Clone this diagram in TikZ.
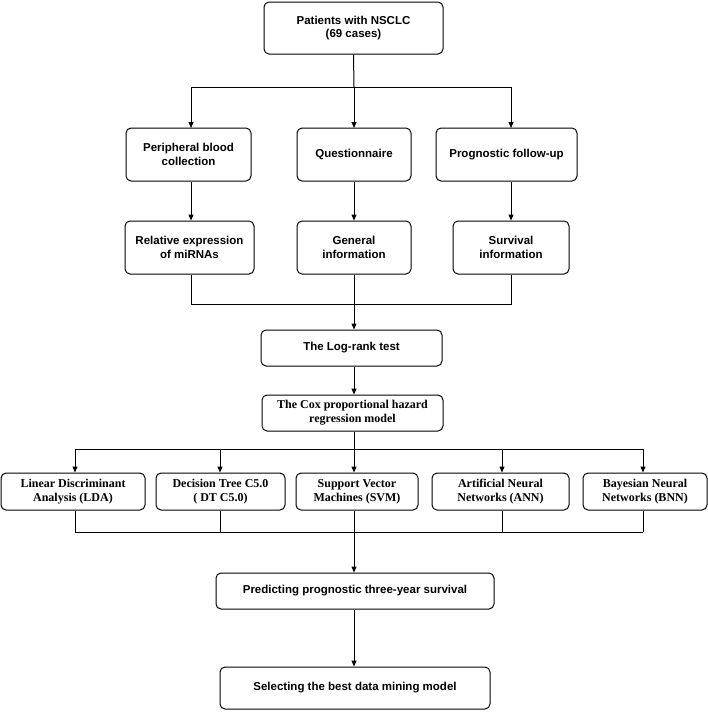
\documentclass[tikz,border=0pt]{standalone}
\usepackage{fontspec}
\setmainfont{Liberation Sans}
\newfontfamily\serifb{Liberation Serif}
\usetikzlibrary{arrows.meta}
\begin{document}
\begin{tikzpicture}[x=1pt,y=-1pt,
  box/.style={draw,line width=1pt,rounded corners=5pt,align=center,inner sep=1pt,font=\fontsize{11.5}{13.5}\selectfont\bfseries},
  sbox/.style={box,font=\fontsize{12}{14}\selectfont\serifb\bfseries},
  ln/.style={line width=1pt},
  ar/.style={ln,-{Triangle[length=6pt,width=5pt]}}]
\useasboundingbox (0,0) rectangle (708,712);
\newcommand\bx[7]{\node[#1,minimum width=#4-#3,minimum height=#6-#5] (#2) at ({(#3+#4)/2},{(#5+#6)/2}) {#7};}
\bx{box}{top}{264}{443}{2}{54}{Patients with NSCLC\\(69 cases)}
\bx{box}{pb}{126}{251}{128}{181}{Peripheral blood\\collection}
\bx{box}{q}{297}{411}{128}{181}{Questionnaire}
\bx{box}{pf}{436}{577}{128}{181}{Prognostic follow-up}
\bx{box}{re}{125}{254}{221}{274}{Relative expression\\of miRNAs}
\bx{box}{gi}{297}{411}{221}{274}{General\\information}
\bx{box}{si}{453}{569}{221}{274}{Survival\\information}
\bx{box}{lr}{261}{442}{330}{366}{The Log-rank test}
\bx{sbox}{cox}{262}{443}{395}{431}{The Cox proportional hazard\\regression model}
\bx{sbox}{lda}{1}{145}{473}{510}{Linear Discriminant\\Analysis (LDA)}
\bx{sbox}{dt}{156}{285}{473}{510}{Decision Tree C5.0\\( DT C5.0)}
\bx{sbox}{svm}{296}{418}{473}{510}{Support Vector\\Machines (SVM)}
\bx{sbox}{ann}{432}{569}{473}{510}{Artificial Neural\\Networks (ANN)}
\bx{sbox}{bnn}{583}{707}{473}{510}{Bayesian Neural\\Networks (BNN)}
\bx{box}{pred}{216}{494}{573}{609}{Predicting prognostic three-year survival}
\bx{box}{sel}{220}{490}{667}{709}{Selecting the best data mining model}
% top branch
\coordinate (b1) at (191,87); \coordinate (b3) at (511,87);
\draw[ln] (top.south) -- (354,87);
\draw[ar] (b1) -- (191,128);
\draw[ar] (354,87) -- (354,128);
\draw[ar] (b3) -- (511,128);
\draw[ln] (b1) -- (b3);
\draw[ar] (pb.south -| 191,0) -- (re.north -| 191,0);
\draw[ar] (q) -- (gi);
\draw[ar] (pf.south -| 511,0) -- (si.north -| 511,0);
\draw[ln] (re.south -| 191,0) -- (191,304) -- (511,304) -- (si.south -| 511,0);
\draw[ar] (gi.south -| 354,0) -- (lr.north -| 354,0);
\draw[ar] (lr.south -| 354,0) -- (cox.north -| 354,0);
\draw[ln] (cox.south -| 354,0) -- (354,449);
\draw[ln] (75,449) -- (643,449);
\foreach \x/\n in {75/lda,220/dt,354/svm,502/ann,643/bnn}{
  \draw[ar] (\x,449) -- (\n.north -| \x,0);
  \draw[ln] (\n.south -| \x,0) -- (\x,532);}
\draw[ln] (75,532) -- (643,532);
\draw[ar] (354,532) -- (pred.north -| 354,0);
\draw[ar] (pred.south -| 354,0) -- (sel.north -| 354,0);
\end{tikzpicture}
\end{document}
